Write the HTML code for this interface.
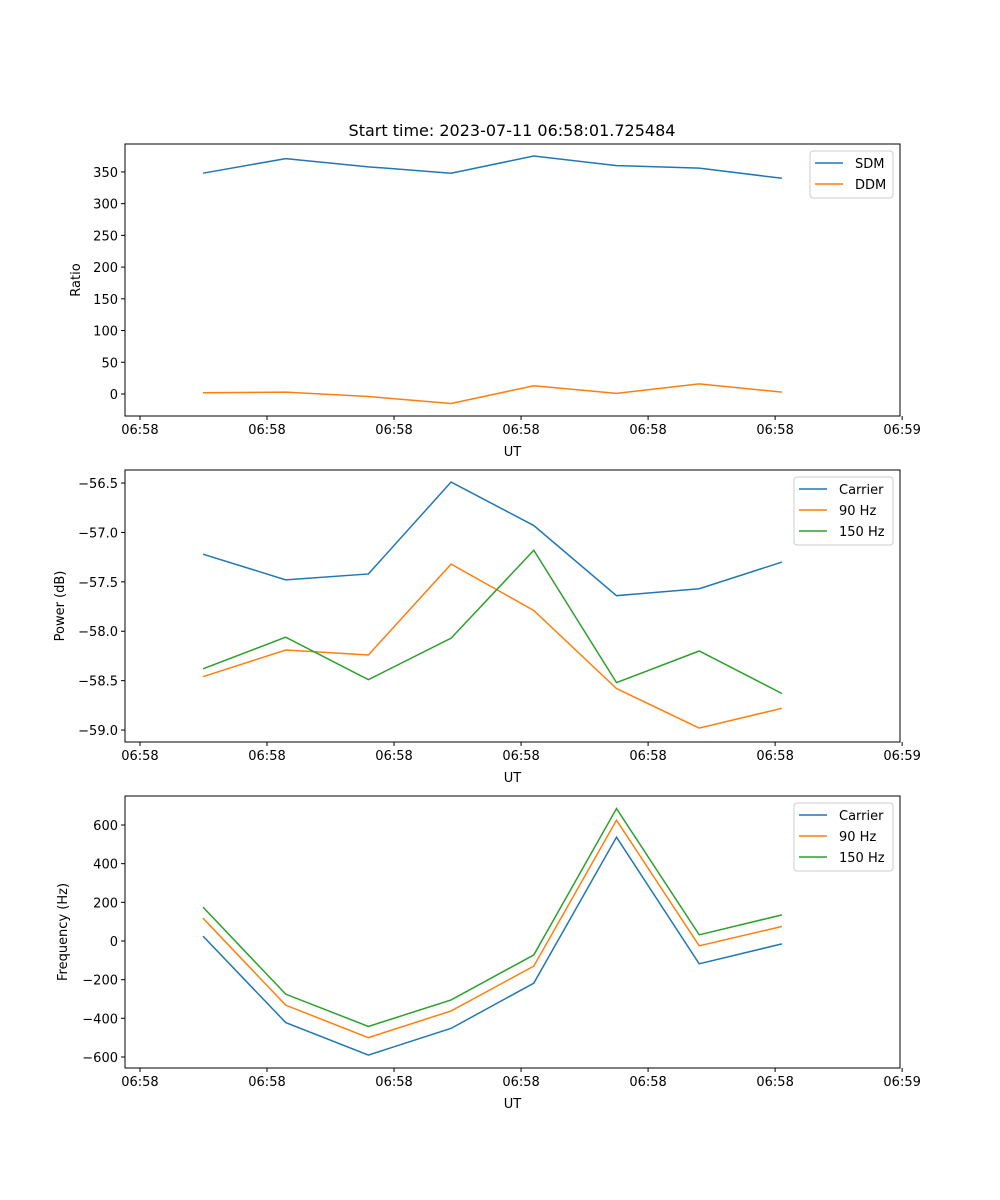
<!DOCTYPE html>
<html><head><meta charset="utf-8"><style>
body{margin:0;background:#fff}
svg{display:block;font-family:"DejaVu Sans","Liberation Sans",sans-serif}
</style></head><body>
<svg id="fig" width="1000" height="1200" viewBox="0 0 1000 1200"></svg>
<script>
// shared x data (sample index) and x tick positions (in same units)
const sampleIdx = [0,1,2,3,4,5,6,7];
const xTickVals = [-0.762,0.774,2.31,3.846,5.382,6.918,8.454];
const xTickLabels = ["06:58","06:58","06:58","06:58","06:58","06:58","06:59"];

// panel 1
const ratioTicks = [0,50,100,150,200,250,300,350];
const sdm = [348,371,358,348,375,360,356,340];
const ddm = [2,3,-4,-15,13,1,16,3];
// panel 2
const powerTicks = [-59.0,-58.5,-58.0,-57.5,-57.0,-56.5];
const powerTickLabels = ["\u221259.0","\u221258.5","\u221258.0","\u221257.5","\u221257.0","\u221256.5"];
const powCarrier = [-57.22,-57.48,-57.42,-56.49,-56.93,-57.64,-57.57,-57.30];
const pow90 = [-58.46,-58.19,-58.24,-57.32,-57.79,-58.58,-58.98,-58.78];
const pow150 = [-58.38,-58.06,-58.49,-58.07,-57.18,-58.52,-58.20,-58.63];
// panel 3
const freqTicks = [-600,-400,-200,0,200,400,600];
const freqTickLabels = ["\u2212600","\u2212400","\u2212200","0","200","400","600"];
const freqCarrier = [25,-422,-590,-452,-218,537,-118,-15];
const freq90 = [118,-332,-500,-362,-130,625,-25,75];
const freq150 = [175,-275,-442,-305,-72,685,32,135];

const NS="http://www.w3.org/2000/svg";
const svg=document.getElementById('fig');
function mk(tag,attrs,parent){const e=document.createElementNS(NS,tag);for(const k in attrs)e.setAttribute(k,attrs[k]);(parent||svg).appendChild(e);return e;}
const L=125,R=900;
const xs=t=>203+t*82.7;

function panel(name,top,bot,yMin,yMax,yTicks,yLabels,yTitle,series,legend){
  const g=mk('g',{});
  
  
  const ys=v=>bot-(v-yMin)/(yMax-yMin)*(bot-top);
  // series
  series.forEach(s=>{
    const p=mk('polyline',{points:s.data.map((v,i)=>xs(sampleIdx[i])+','+ys(v)).join(' '),fill:'none',stroke:s.color,'stroke-width':1.5},g);
    
    
  });
  const fr=mk('rect',{x:L,y:top,width:R-L,height:bot-top,fill:'none',stroke:'#000','stroke-width':1},g);
  
  
  // x ticks
  xTickVals.forEach((t,i)=>{
    const x=xs(t);
    mk('line',{x1:x,x2:x,y1:bot,y2:bot+4,stroke:'#000'},g);
    const tx=mk('text',{x:x,y:bot+18,'font-size':13,'text-anchor':'middle'},g);
    tx.textContent=xTickLabels[i];
    
    
  });
  const xt=mk('text',{x:(L+R)/2,y:bot+40,'font-size':13,'text-anchor':'middle'},g);
  xt.textContent='UT';
  
  
  // y ticks
  yTicks.forEach((v,i)=>{
    const y=ys(v);
    mk('line',{x1:L-4,x2:L,y1:y,y2:y,stroke:'#000'},g);
    const tx=mk('text',{x:L-7,y:y+5,'font-size':13,'text-anchor':'end'},g);
    tx.textContent=yLabels[i];
    
    
  });
  const yt=mk('text',{x:0,y:0,'font-size':13,'text-anchor':'middle',transform:`translate(${legend.yTitleX},${(top+bot)/2}) rotate(-90)`},g);
  yt.textContent=yTitle;
  
  
  // legend
  const lg=mk('g',{},g);
  
  
  mk('rect',{x:legend.x,y:top+7,width:legend.w,height:series.length*21+5,rx:3,fill:'#fff',stroke:'#ccc'},lg);
  series.forEach((s,i)=>{
    const y=top+19+i*21;
    const e=mk('g',{},lg);
    
    
    mk('line',{x1:legend.x+5,x2:legend.x+33,y1:y,y2:y,stroke:s.color,'stroke-width':1.5},e);
    const t=mk('text',{x:legend.x+45,y:y+5,'font-size':13},e);
    t.textContent=s.label;
  });
}
const C1='#1f77b4',C2='#ff7f0e',C3='#2ca02c';
const title=mk('text',{x:512,y:136,'font-size':16,'text-anchor':'middle'});
title.textContent='Start time: 2023-07-11 06:58:01.725484';



panel('ratio-panel',144,416,-34.7,394,ratioTicks,ratioTicks.map(String),'Ratio',
  [{id:'sdm',label:'SDM',color:C1,data:sdm},{id:'ddm',label:'DDM',color:C2,data:ddm}],
  {x:810,w:83,yTitleX:80});
panel('power-panel',470,742,-59.121,-56.368,powerTicks,powerTickLabels,'Power (dB)',
  [{id:'carrier',label:'Carrier',color:C1,data:powCarrier},{id:'hz90',label:'90 Hz',color:C2,data:pow90},{id:'hz150',label:'150 Hz',color:C3,data:pow150}],
  {x:794,w:99,yTitleX:64});
panel('frequency-panel',796,1068,-657,750,freqTicks,freqTickLabels,'Frequency (Hz)',
  [{id:'carrier',label:'Carrier',color:C1,data:freqCarrier},{id:'hz90',label:'90 Hz',color:C2,data:freq90},{id:'hz150',label:'150 Hz',color:C3,data:freq150}],
  {x:794,w:99,yTitleX:67});
</script>
</body></html>
